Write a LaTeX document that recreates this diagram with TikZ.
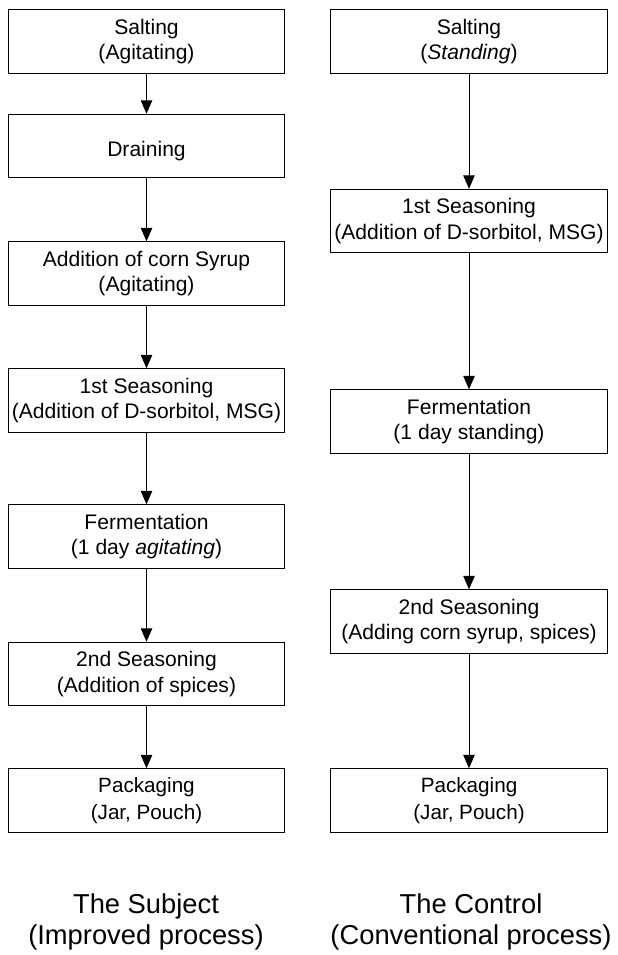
\documentclass[tikz,border=0pt]{standalone}
\usepackage{fontspec}
\setmainfont{Liberation Sans}
\usetikzlibrary{arrows.meta}

\begin{document}
\begin{tikzpicture}[x=0.75pt,y=-0.75pt,
      box/.style={rectangle,draw,line width=0.8pt,align=center,inner sep=0pt,
        minimum width=207.5pt,minimum height=47.5pt,
        font=\fontsize{15.8}{19}\selectfont,
        execute at begin node={\rule{0pt}{18.5pt}}},
      flow/.style={line width=0.7pt,-{Triangle[length=10pt,width=8.5pt]}},
      title/.style={align=center,font=\fontsize{20.5}{23.5}\selectfont}]
      \useasboundingbox (0,0) rectangle (617,955);

      % the subject
      \node (s1) at (146.5,41.5) [box] {Salting\\(Agitating)};
      \node (s2) at (146.5,146) [box] {Draining};
      \node (s3) at (146.5,273.5) [box] {Addition of corn Syrup\\(Agitating)};
      \node (s4) at (146.5,400.5) [box] {1st Seasoning\\(Addition of D-sorbitol, MSG)};
      \node (s5) at (146.5,536.5) [box] {Fermentation\\(1 day \textit{agitating})};
      \node (s6) at (146.5,674) [box] {2nd Seasoning\\(Addition of spices)};
      \node (s7) at (146.5,800.5) [box,font=\fontsize{15.5}{20}\selectfont] {Packaging\\(Jar, Pouch)};

      % the control
      \node (c1) at (469,41.5) [box] {Salting\\(\textit{Standing})};
      \node (c2) at (469,221) [box] {1st Seasoning\\(Addition of D-sorbitol, MSG)};
      \node (c3) at (469,421.5) [box] {Fermentation\\(1 day standing)};
      \node (c4) at (469,621.5) [box] {2nd Seasoning\\(Adding corn syrup, spices)};
      \node (c5) at (469,800.5) [box,font=\fontsize{15.5}{20}\selectfont] {Packaging\\(Jar, Pouch)};

      \draw[flow] (s1) -- (s2);
      \draw[flow] (s2) -- (s3);
      \draw[flow] (s3) -- (s4);
      \draw[flow] (s4) -- (s5);
      \draw[flow] (s5) -- (s6);
      \draw[flow] (s6) -- (s7);

      \draw[flow] (c1) -- (c2);
      \draw[flow] (c2) -- (c3);
      \draw[flow] (c3) -- (c4);
      \draw[flow] (c4) -- (c5);

      \node (subj) at (146,922) [title] {The Subject\\(Improved process)};
      \node (ctrl) at (471,922) [title] {The Control\\(Conventional process)};
    \end{tikzpicture}
\end{document}
